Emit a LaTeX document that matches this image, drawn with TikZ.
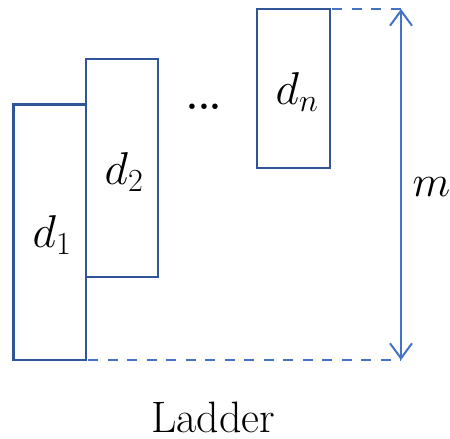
\RequirePackage{fix-cm}
\documentclass[tikz,border=0pt]{standalone}
\usetikzlibrary{arrows.meta}
\definecolor{boxblue}{HTML}{2F5597}
\definecolor{linblue}{HTML}{4472C4}
\tikzset{
  bar/.style={draw=boxblue, line width=2.4pt, inner sep=0pt, outer sep=0pt, anchor=north west},
  guide/.style={draw=linblue, line width=2pt, dash pattern=on 10pt off 9.5pt},
  dim/.style={draw=linblue, line width=2pt, {Straight Barb[length=15pt,width=22pt,line width=2pt]}-{Straight Barb[length=15pt,width=22pt,line width=2pt]}},
  lbl/.style={font=\fontsize{46}{54}\selectfont, inner sep=0pt}
}
\begin{document}
\begin{tikzpicture}[x=1pt,y=-1pt]
\useasboundingbox (0,0) rectangle (450,439);
\node[bar, minimum width=72.5pt, minimum height=255.5pt] (d1) at (13.5,104.5) {};
\node[bar, minimum width=72pt, minimum height=218pt] (d2) at (86,59) {};
\node[bar, minimum width=73pt, minimum height=159pt] (dn) at (257,9) {};
\node[lbl] (l1) at (52,235) {$d_1$};
\node[lbl] (l2) at (124,172) {$d_2$};
\node[lbl] (ln) at (297,92) {$d_n$};
\node[lbl, font=\fontsize{38}{46}\selectfont\bfseries, anchor=base] (dots) at (204,109.5) {...};
\coordinate (tr) at (401,9);
\coordinate (br) at (401,360);
\draw[guide] ([xshift=2pt]dn.north east) -- (tr);
\draw[guide] ([xshift=2pt]d1.south east) -- (br);
\draw[dim] (br) -- (tr);
\node[lbl, font=\fontsize{44}{52}\selectfont] (m) at (431.5,187) {$m$};
\node[lbl, font=\fontsize{44}{52}\selectfont, anchor=base] (cap) at (213,432) {Ladder};
\end{tikzpicture}
\end{document}
